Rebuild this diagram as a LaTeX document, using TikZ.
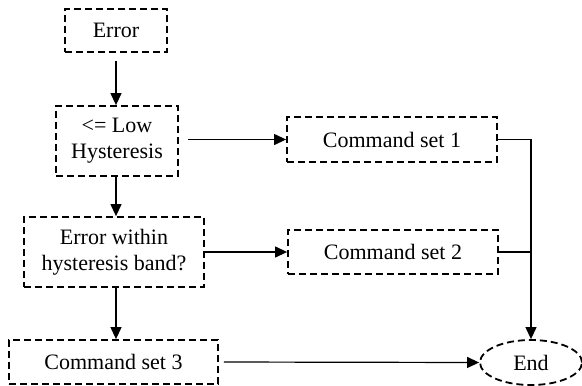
\documentclass[tikz,border=0pt]{standalone}
\usepackage{fontspec}
\setmainfont{Liberation Serif}
\usetikzlibrary{arrows.meta,shapes.geometric}

\tikzset{
  box/.style={draw, line width=1.8pt, dash pattern=on 7pt off 4pt,
    align=center, inner sep=0pt, font=\fontsize{22}{26}\selectfont},
  arr/.style={line width=1.2pt, -{Triangle[length=12pt,width=11pt]}},
  link/.style={line width=1.2pt}
}

\begin{document}
\begin{tikzpicture}[x=1pt,y=-1pt]
  \useasboundingbox (0,0) rectangle (582,386);

  % process boxes
  \node[box, minimum width=102pt, minimum height=43pt] (err) at (116,30.5) {Error};
  \node[box, minimum width=122pt, minimum height=70pt] (low) at (117,141) {<= Low\\Hysteresis};
  \node[box, minimum width=210pt, minimum height=45pt] (cs1) at (392,139.5) {Command set 1};
  \node[box, minimum width=180pt, minimum height=70pt] (within) at (114,252) {Error within\\hysteresis band?};
  \node[box, minimum width=210pt, minimum height=44pt] (cs2) at (393,252) {Command set 2};
  \node[box, minimum width=209pt, minimum height=44pt] (cs3) at (113.5,362) {Command set 3};
  \node[box, ellipse, minimum width=102pt, minimum height=45pt] (end) at (531,362.5) {End};

  % start points of the downward arrows on the left column
  \coordinate (lowout) at (low.south -| err.south);
  \coordinate (withinout) at (within.south -| err.south);

  % flow
  \draw[arr, shorten <=8pt] (err.south) -- (err.south |- low.north);
  \draw[arr, shorten <=9pt] (low.east |- cs1.west) -- (cs1.west);
  \draw[arr] (lowout) -- (lowout |- within.north);
  \draw[arr] (within.east) -- (within.east -| cs2.west);
  \draw[arr] (withinout) -- (withinout |- cs3.north);
  \draw[arr, shorten <=5pt] (cs3.east) -- (end.west);
  \draw[arr] (cs1.east) -| (end.north);
  \draw[link] (cs2.east) -- (cs2.east -| end.north);
\end{tikzpicture}
\end{document}
